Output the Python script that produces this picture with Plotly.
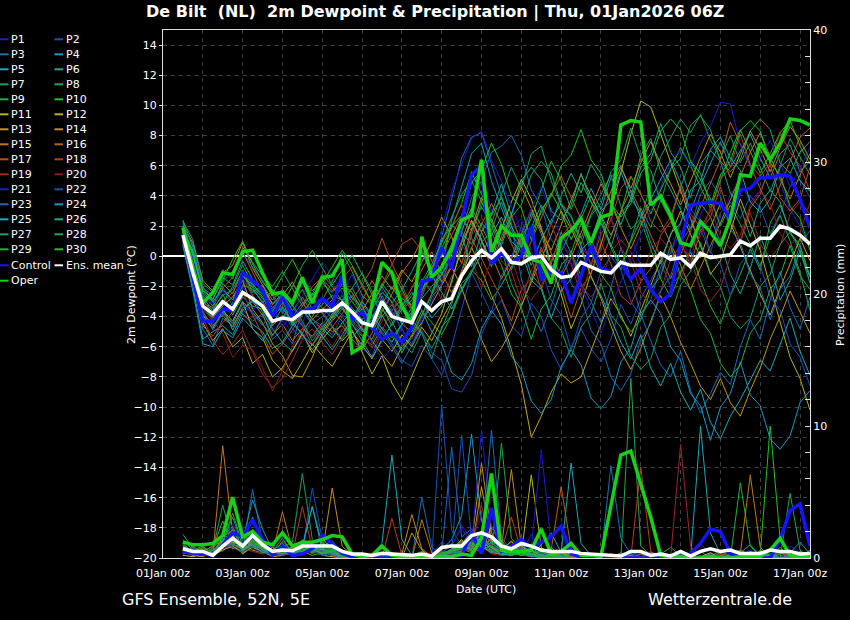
import plotly.graph_objects as go
import pandas as pd

# ---------------- data ----------------
start_time = "2026-01-01 12:00"
n_steps = 64
x_tick_days = ["2026-01-%02d" % d for d in range(1, 18)]
x_tick_labels = ["01Jan 00z", "", "03Jan 00z", "", "05Jan 00z", "", "07Jan 00z", "", "09Jan 00z", "",
                 "11Jan 00z", "", "13Jan 00z", "", "15Jan 00z", "", "17Jan 00z"]
y_tick_vals = list(range(-20, 15, 2))
y2_tick_vals = list(range(0, 41, 2))
y2_tick_labels = ["0", "", "", "", "", "10", "", "", "", "", "20", "", "", "", "", "30", "", "", "", "", "40"]

member_colors = ["#1c1cc8", "#1c50b4", "#1c6cb4", "#1c98c0", "#1ca8b4", "#1ca888", "#1c9c64", "#1ca850",
                 "#1cb434", "#1cc41c", "#b4b41c", "#c0a81c", "#c0981c", "#c08c1c", "#c0781c", "#b4641c",
                 "#b4501c", "#b4401c", "#9c2828", "#8c1c1c"]

# dewpoint (deg C), 6-hourly from 01Jan 12z
dew_control = [1.5, -1.5, -4.3, -4.3, -3.5, -3.6, -1.1, -1.6, -2.2, -4.0, -2.7, -4.0, -3.6, -3.5, -2.8, -3.3,
               -1.3, -4.2, -3.7, -4.7, -5.5, -5.1, -5.7, -4.7, -1.7, -1.5, 0.6, -0.8, 2.3, 5.4, 6.0, -0.5,
               0.2, -0.4, 0.0, 2.0, -1.5, -1.0, -1.1, -3.1, -1.3, 0.7, -0.8, -1.0, -0.4, -1.5, -0.8, -2.2,
               -3.0, -2.5, 0.9, 3.4, 3.5, 3.6, 3.5, 2.5, 4.4, 4.5, 5.2, 5.2, 5.4, 5.3, 3.8, 1.9]
dew_oper = [1.9, -0.8, -3.1, -2.4, -1.1, -1.2, 0.3, 0.4, -1.1, -2.5, -2.4, -3.1, -1.4, -3.1, -1.4, -1.3,
            -0.2, -6.4, -6.0, -3.3, -0.4, -1.1, -3.3, -4.5, 1.3, -1.4, -0.7, 0.5, 2.4, 2.7, 6.4, 0.3,
            2.0, 1.4, 1.4, -0.2, -0.4, -1.8, 1.2, 1.7, 2.5, 0.9, 2.6, 2.8, 8.7, 9.0, 8.9, 3.4,
            4.0, 2.7, 0.9, 0.7, 2.3, 1.6, 0.7, 2.5, 5.4, 5.3, 7.5, 6.4, 7.5, 9.1, 9.0, 8.7]
dew_mean = [1.4, -1.1, -3.3, -3.8, -3.0, -3.5, -2.4, -2.8, -3.3, -4.3, -4.1, -4.2, -3.7, -3.7, -3.6, -3.6,
            -3.1, -3.7, -4.4, -4.6, -3.0, -4.0, -4.2, -4.4, -3.0, -3.6, -3.0, -2.8, -1.3, -0.3, 0.4, -0.1,
            0.5, -0.4, -0.5, -0.1, 0.0, -0.9, -1.4, -1.3, -0.4, -0.7, -1.0, -1.1, -0.4, -0.6, -0.6, -0.6,
            0.2, -0.2, -0.1, -0.7, 0.2, -0.1, 0.0, 0.1, 1.0, 0.7, 1.2, 1.2, 2.0, 1.8, 1.4, 0.8]

dew_p01 = [1.2, -0.5, -3.8, -4.5, -3.2, -4.0, -2.0, -3.1, -3.6, -5.0, -4.2, -5.1, -4.4, -3.0, -2.8, -3.9,
           -2.5, -1.2, -2.9, -4.1, -2.2, -3.5, -5.0, -5.8, -4.2, -3.0, -1.5, 0.2, 2.1, 4.8, 5.5, 3.0,
           3.6, 1.8, 2.5, 0.4, -1.2, -0.6, -2.4, -1.0, 0.8, -0.5, 1.9, 2.6, 0.9, 1.5, -0.7, -2.1,
           -1.0, 0.3, 1.6, -0.4, 2.8, 3.9, 2.2, 4.1, 5.0, 3.6, 4.4, 5.8, 4.9, 3.1, 2.0, 0.6]
dew_p02 = [1.6, -0.2, -2.5, -3.1, -2.0, -3.3, -1.5, -2.6, -2.0, -3.4, -3.6, -4.8, -5.5, -4.2, -4.6, -5.2,
           -4.0, -4.9, -6.1, -6.6, -5.0, -5.8, -6.9, -7.3, -5.9, -6.8, -7.9, -6.0, -3.5, -1.1, -2.4, -3.8,
           -2.9, -4.6, -5.3, -3.1, -4.0, -6.2, -7.5, -6.0, -4.8, -6.1, -7.0, -5.5, -3.2, -4.5, -2.8, -1.6,
           -0.4, -2.0, -1.2, 0.5, 1.8, 0.2, 2.9, 3.6, 2.5, 4.0, 3.2, 1.5, 2.8, 4.6, 5.1, 3.9]
dew_p03 = [1.0, -1.6, -4.8, -5.9, -4.1, -4.6, -3.5, -4.3, -3.8, -5.5, -4.9, -5.8, -3.6, -4.5, -4.0, -3.3,
           -3.9, -4.2, -5.0, -4.4, -2.6, -3.9, -3.1, -4.6, -2.7, -1.0, 1.3, 3.8, 6.5, 7.9, 8.2, 6.1,
           4.0, 2.2, -1.5, -3.6, -5.0, -3.3, -1.2, 0.4, -1.8, -3.0, -4.4, -2.1, 0.6, -1.5, -3.8, -5.6,
           -7.2, -8.0, -6.3, -8.9, -10.4, -9.1, -7.7, -8.5, -6.0, -4.2, -5.5, -2.9, -1.0, -3.4, -4.8, -2.7]
dew_p04 = [1.8, 0.4, -2.8, -3.5, -2.6, -2.2, -1.0, -1.9, -2.5, -3.6, -2.9, -4.0, -3.1, -2.6, -1.8, -2.4,
           -1.6, -2.8, -3.3, -4.7, -3.9, -5.1, -6.2, -5.4, -4.0, -2.5, -0.9, 2.4, 4.6, 6.8, 7.5, 5.0,
           3.2, 1.4, 0.6, 2.9, 1.5, -0.8, 0.3, 1.7, 2.8, 4.5, 3.1, 5.2, 6.0, 4.3, 2.5, 3.8,
           5.1, 6.4, 4.9, 3.0, 4.7, 6.2, 7.6, 5.9, 7.0, 8.1, 6.5, 5.2, 6.8, 7.4, 5.6, 6.3]
dew_p05 = [0.8, -2.0, -5.5, -5.0, -4.6, -5.2, -3.8, -4.5, -5.0, -6.1, -5.7, -6.3, -5.2, -5.9, -4.8, -5.4,
           -4.4, -3.6, -4.9, -5.5, -4.0, -3.2, -4.5, -3.8, -2.9, -4.1, -3.3, -1.8, 0.9, 2.3, 1.0, -0.7,
           1.3, 2.7, 0.9, -0.6, 1.1, 2.4, 3.5, 2.0, 0.7, -1.4, -2.6, -4.1, -5.7, -6.8, -5.2, -7.4,
           -8.6, -7.1, -9.0, -10.2, -8.8, -11.0, -12.1, -10.6, -9.5, -8.2, -6.9, -7.6, -5.8, -4.1, -6.3, -7.9]
dew_p06 = [2.4, 0.6, -2.2, -2.9, -1.4, -1.9, -0.3, -1.5, -2.2, -3.1, -2.5, -3.6, -2.7, -3.8, -3.2, -2.6,
           -2.9, -3.4, -4.2, -3.5, -2.4, -3.0, -4.4, -3.7, -2.8, -2.0, -1.2, -0.1, 1.6, 0.8, 2.2, 1.5,
           0.6, -0.9, 0.8, 1.9, 3.4, 2.1, 4.0, 5.5, 4.2, 6.1, 5.0, 3.6, 2.1, 3.9, 6.7, 7.8,
           5.6, 4.4, 3.1, 1.8, 3.5, 2.6, 0.9, -1.2, -2.5, -0.8, 1.4, -0.5, -2.9, -1.6, 0.4, -1.8]
dew_p07 = [1.3, -0.9, -3.4, -4.2, -2.9, -3.6, -1.9, -2.2, -3.0, -4.0, -3.3, -4.6, -3.9, -2.8, -3.4, -4.1,
           -3.3, -2.6, -3.8, -4.9, -3.5, -4.3, -5.7, -6.4, -5.0, -6.1, -4.8, -3.2, -1.0, 1.4, 3.6, 2.2,
           4.1, 5.9, 4.5, 6.8, 7.3, 5.0, 3.4, 2.6, 1.2, 2.8, 4.1, 5.4, 3.3, 1.8, 2.5, 4.7,
           6.6, 7.9, 9.1, 8.2, 9.4, 7.7, 6.5, 8.0, 6.2, 7.5, 5.9, 4.3, 6.0, 7.8, 6.6, 5.4]
dew_p08 = [2.1, 0.2, -2.0, -3.0, -3.8, -3.1, -1.2, -2.0, -2.8, -3.7, -2.4, -3.2, -2.2, -3.5, -2.9, -1.7,
           0.2, -1.0, -2.6, -3.2, -1.8, -2.7, -3.6, -2.9, -1.5, -2.4, -0.6, 0.8, 2.5, 1.7, 3.3, 2.0,
           0.5, -1.8, -3.3, -1.6, 0.4, -0.5, 1.6, 0.2, -1.3, 0.9, 2.2, 0.6, -0.9, 1.1, 3.2, 1.9,
           3.7, 2.4, 4.6, 6.3, 5.1, 3.8, 2.0, 3.4, 2.1, 0.8, -0.7, 1.3, 2.7, 1.0, -1.1, -3.6]
dew_p09 = [1.7, -0.4, -3.0, -3.6, -2.5, -3.9, -2.7, -3.3, -3.5, -4.6, -3.9, -4.4, -3.5, -4.1, -4.9, -3.8,
           -3.4, -4.5, -5.3, -5.9, -4.7, -5.4, -4.5, -5.0, -3.6, -4.4, -5.2, -3.9, -2.2, -0.9, -1.6, -2.9,
           -1.9, -0.7, 1.2, 2.5, 4.4, 6.3, 5.0, 3.1, 4.9, 3.6, 2.3, 0.8, -0.6, 1.0, 2.4, 0.5,
           -1.5, -2.7, -1.1, 0.3, -1.6, -3.3, -4.5, -2.6, -1.2, 0.5, -0.9, 2.2, 3.4, 1.7, 0.3, -1.4]
dew_p10 = [1.9, 0.0, -2.6, -3.3, -1.8, -2.5, -0.9, -2.4, -1.9, -2.9, -2.2, -3.0, -1.6, -2.3, -1.5, -2.8,
           -2.1, -3.0, -3.9, -4.1, -2.9, -3.6, -2.8, -3.2, -1.9, -0.8, 0.5, 1.9, 3.5, 5.6, 4.1, 2.7,
           3.9, 2.0, 0.7, 1.6, 2.9, 4.2, 3.0, 1.1, 2.5, 4.0, 2.7, 1.4, 2.9, 5.3, 4.1, 2.8,
           4.4, 5.8, 7.2, 6.0, 4.6, 3.2, 5.0, 6.9, 8.4, 7.0, 5.5, 6.8, 8.2, 9.0, 7.3, 6.1]
dew_p11 = [1.1, -1.8, -4.4, -5.6, -4.8, -6.0, -5.4, -7.1, -6.5, -8.0, -7.4, -6.2, -5.1, -6.4, -5.5, -4.7,
           -5.6, -4.9, -6.3, -7.8, -6.6, -8.4, -9.5, -8.0, -6.4, -5.1, -3.8, -1.6, 0.5, 2.4, 1.1, -0.4,
           1.8, 3.6, 5.1, 3.8, 1.9, -0.6, -2.5, -4.8, -3.2, -1.1, 0.8, 3.0, 5.6, 8.1, 10.3, 9.9,
           8.1, 6.2, 4.4, 2.5, 0.7, -1.2, -0.3, 1.6, 3.8, 2.1, 0.4, -2.0, -4.4, -6.7, -8.1, -10.2]
dew_p12 = [0.9, -1.2, -3.9, -4.8, -3.6, -4.3, -3.0, -4.8, -5.4, -6.9, -7.6, -8.1, -7.0, -5.8, -6.6, -7.3,
           -6.1, -5.0, -5.9, -6.8, -5.5, -6.3, -5.2, -6.0, -4.7, -5.6, -4.2, -3.0, -1.4, 0.6, -0.9, -2.6,
           -4.1, -6.2, -8.5, -12.0, -10.6, -9.0, -7.8, -8.4, -8.0, -6.3, -4.5, -2.8, -3.9, -5.3, -3.6, -1.9,
           -0.3, 1.4, 3.0, 1.5, -0.1, 1.9, 3.5, 2.2, 0.6, -1.0, -2.5, -3.9, -2.1, -0.5, 1.2, -0.3]
dew_p13 = [1.5, -0.7, -3.2, -4.0, -3.3, -2.7, -1.6, -3.5, -4.4, -5.8, -6.6, -7.9, -8.0, -6.7, -5.1, -4.0,
           -3.1, -4.0, -4.8, -5.6, -6.5, -7.3, -6.0, -5.3, -4.4, -3.2, -2.0, -0.7, -2.1, -3.9, -5.5, -7.0,
           -6.1, -4.9, -3.3, -1.7, -0.2, 1.4, 3.0, 1.8, 0.4, -1.3, -2.8, -4.6, -6.3, -7.5, -6.1, -4.3,
           -2.6, -4.0, -5.7, -7.1, -8.6, -9.5, -8.1, -9.7, -10.6, -8.9, -7.4, -5.5, -4.0, -2.3, -3.7, -5.1]
dew_p14 = [2.0, 0.9, -1.6, -2.3, -1.1, -0.6, 0.9, -0.8, -1.9, -3.2, -2.6, -1.7, -3.0, -4.2, -3.5, -2.9,
           -1.8, -2.4, -3.6, -2.5, -1.3, -2.2, -0.9, -1.7, -0.4, 1.0, 2.6, 1.3, -0.5, 1.8, 3.9, 2.4,
           1.0, 2.8, 4.6, 3.2, 1.7, 0.4, 2.1, 3.8, 5.4, 4.0, 2.6, 4.3, 5.9, 4.5, 6.2, 7.6,
           6.1, 4.8, 3.4, 5.0, 6.6, 8.1, 6.9, 5.2, 6.8, 8.3, 7.1, 5.6, 7.2, 8.6, 7.7, 6.4]
dew_p15 = [1.2, -1.3, -3.7, -4.6, -3.9, -4.7, -3.4, -3.0, -3.9, -5.2, -4.5, -5.6, -4.8, -5.3, -4.4, -5.0,
           -4.6, -5.5, -6.2, -5.1, -3.7, -2.5, -1.1, -0.2, 1.1, -0.3, -1.7, -0.6, 1.0, 2.9, 1.6, 0.1,
           -1.5, -0.2, 1.5, 3.1, 1.8, 0.2, -1.4, -0.1, 1.6, 3.2, 4.8, 3.5, 1.9, 0.5, 2.0, 3.6,
           2.3, 0.9, -0.6, -2.2, -0.8, 0.7, 2.2, 3.7, 5.3, 6.9, 8.2, 6.6, 5.1, 3.8, 5.4, 6.8]
dew_p16 = [1.4, -0.6, -3.1, -3.4, -2.1, -1.4, 0.3, -1.1, -2.4, -3.4, -2.7, -3.8, -4.6, -5.9, -5.0, -4.3,
           -3.5, -4.3, -3.0, -1.6, -2.8, -4.1, -3.3, -2.1, -0.9, 0.3, -1.1, -2.4, -1.0, 0.6, 2.1, 3.5,
           2.2, 0.9, -0.5, 1.0, 2.6, 4.1, 5.3, 3.9, 2.4, 1.0, -0.3, 1.3, 3.0, 4.4, 3.0, 1.4,
           0.0, -1.5, 0.1, 1.7, 3.3, 4.9, 6.4, 8.9, 7.4, 6.0, 4.5, 3.1, 4.7, 6.2, 7.9, 8.5]
dew_p17 = [1.0, -1.9, -4.6, -5.3, -4.4, -3.7, -2.3, -3.9, -5.2, -6.5, -5.8, -4.9, -3.7, -2.9, -3.8, -4.7,
           -3.8, -2.9, -1.9, -0.8, 1.2, -0.5, -1.9, -3.4, -2.5, -1.3, 0.1, 1.4, 2.7, 1.2, -0.2, -1.5,
           -2.8, -4.3, -2.2, -1.5, 0.6, -1.3, -2.0, -4.1, -2.1, -1.2, 0.9, -0.5, -2.6, -3.2, -1.7, -0.8,
           1.4, 2.3, 1.0, -0.6, 1.7, 2.6, 4.6, 2.5, 1.0, 3.2, 4.1, 6.1, 3.9, 3.0, 3.8, 5.9]
dew_p18 = [1.6, -0.3, -2.9, -3.8, -3.0, -2.4, -1.1, -2.6, -3.4, -2.5, -3.5, -4.3, -3.3, -2.0, -1.4, -2.3,
           -1.5, -0.7, -2.0, -3.1, -1.9, -0.6, 0.8, 1.2, 0.4, -0.8, 0.9, 2.0, 3.4, 2.1, 0.6, -0.6,
           0.9, 2.8, 0.8, -0.1, -2.2, -0.3, 1.3, 2.1, 1.3, -0.6, 1.5, 2.4, 4.5, 5.3, 4.2, 2.3,
           1.6, 2.6, 4.7, 2.8, 1.9, 3.0, 5.1, 5.9, 8.1, 6.1, 5.3, 6.2, 8.2, 6.9, 6.0, 4.3]
dew_p19 = [1.3, -1.0, -4.0, -5.6, -6.5, -5.8, -4.9, -6.3, -7.8, -8.7, -8.1, -6.9, -5.5, -4.8, -5.7, -6.5,
           -5.4, -4.3, -5.2, -6.1, -4.9, -3.6, -2.4, -3.7, -2.6, -1.1, -3.0, -1.3, -0.5, 1.6, 2.5, 1.7,
           -0.3, -1.0, -3.0, -0.9, 0.1, 2.2, 0.3, -0.5, -2.6, -0.6, 0.4, 2.5, 0.5, -0.3, -2.4, -3.2,
           -2.3, -0.2, 0.7, -0.1, -2.2, -3.0, -2.1, 0.0, 0.9, 2.9, 0.8, -0.1, 0.7, 2.8, 3.6, 2.8]
dew_p20 = [1.1, -1.4, -3.5, -4.3, -5.1, -6.7, -5.9, -6.2, -7.4, -8.9, -7.6, -6.0, -4.9, -4.1, -5.0, -6.0,
           -4.8, -3.7, -4.6, -5.7, -4.3, -3.1, -4.2, -5.5, -4.0, -2.5, -1.8, 0.0, 0.7, -0.1, -2.1, -0.2,
           0.6, -0.1, -2.1, -2.9, -2.0, 0.0, 0.8, 0.1, -1.9, -2.7, -1.8, 0.3, 1.1, 0.3, -1.7, 0.4,
           1.2, 0.4, -1.6, 0.5, 1.3, 3.3, 1.3, 0.5, 1.4, 3.4, 4.3, 3.5, 1.5, 0.7, 1.6, 3.6]
dew_p21 = [1.7, -0.1, -2.7, -3.2, -2.3, -3.0, -2.5, -3.6, -2.9, -3.3, -4.7, -3.8, -2.6, -1.5, -0.4, -1.3,
           -2.4, -3.6, -4.4, -5.8, -6.8, -6.1, -4.7, -3.9, -2.2, -0.6, 1.8, 4.3, 6.1, 7.8, 8.3, 6.4,
           5.0, 3.3, 1.6, 3.1, 4.6, 2.8, 1.2, -0.5, -2.0, -3.5, -5.1, -3.3, -1.7, -0.1, 1.5, 3.1,
           4.6, 6.2, 7.1, 5.9, 7.5, 8.6, 10.2, 10.1, 7.4, 5.9, 6.5, 7.7, 6.2, 4.6, 5.8, 7.2]
dew_p22 = [1.3, -1.1, -3.6, -4.9, -3.8, -4.4, -3.2, -3.8, -4.6, -3.5, -2.4, -3.3, -4.5, -5.4, -4.6, -3.5,
           -2.6, -3.8, -5.0, -4.2, -2.9, -3.7, -4.8, -5.9, -4.9, -6.4, -6.9, -8.8, -9.0, -7.9, -5.2, -3.7,
           -1.3, -0.1, 2.0, 0.0, -0.8, -2.9, -3.9, -6.2, -4.1, -3.1, -1.0, 0.0, -0.9, -3.0, -4.0, -2.9,
           -0.7, 0.2, 2.3, 3.1, 2.3, 0.3, -0.5, -2.6, -0.5, 0.3, -0.6, -2.7, -3.6, -5.8, -6.7, -8.6]
dew_p23 = [2.2, 0.7, -2.1, -2.6, -1.7, -1.0, 0.2, -0.7, -1.6, -2.6, -3.8, -2.9, -1.8, -2.7, -3.7, -4.6,
           -5.5, -4.4, -3.2, -4.0, -5.1, -6.0, -7.1, -5.9, -4.5, -2.7, -1.9, 0.4, 1.5, 3.9, 5.0, 6.9,
           7.3, 8.0, 6.7, 4.4, 3.3, 1.1, 0.4, -1.8, -2.7, -4.9, -5.8, -8.0, -8.9, -7.8, -5.5, -4.5,
           -2.3, -1.3, 0.9, 1.9, 4.1, 5.0, 4.0, 1.8, 0.9, -1.2, -2.1, -4.2, -2.2, -1.3, 0.8, 1.7]
dew_p24 = [0.7, -2.3, -5.8, -6.0, -4.9, -5.4, -4.1, -4.8, -5.6, -4.5, -3.4, -4.3, -5.2, -6.2, -5.3, -4.2,
           -3.3, -4.5, -5.6, -6.7, -5.6, -4.4, -3.3, -2.4, -3.6, -5.0, -5.8, -7.7, -8.2, -7.1, -4.8, -3.6,
           -4.5, -6.6, -7.5, -9.6, -10.4, -9.5, -7.3, -6.2, -7.2, -9.4, -10.1, -9.3, -7.0, -6.1, -3.8, -2.9,
           -3.8, -6.0, -6.9, -9.1, -9.9, -12.2, -10.0, -9.1, -7.0, -9.2, -9.9, -12.1, -12.8, -11.9, -9.7, -8.9]
dew_p25 = [1.5, -0.8, -3.3, -4.1, -3.4, -4.9, -3.6, -2.9, -3.7, -4.8, -5.7, -4.6, -3.5, -4.4, -5.3, -6.2,
           -5.2, -4.1, -3.0, -3.9, -4.8, -5.7, -4.5, -3.4, -2.3, -1.2, -2.4, -3.5, -2.3, -1.1, 0.2, 1.4,
           2.6, 1.0, 0.3, -1.6, -2.2, -4.1, -2.3, -1.5, 0.4, 1.1, 3.0, 3.7, 5.6, 3.8, 2.9, 0.9,
           -0.5, 1.5, 2.2, 4.4, 5.0, 7.1, 7.9, 6.5, 5.7, 3.6, 2.9, 3.8, 5.9, 6.5, 5.0, 4.3]
dew_p26 = [1.8, 0.3, -2.4, -3.0, -2.2, -2.9, -1.3, -2.1, -3.1, -2.2, -3.0, -4.5, -5.1, -4.0, -2.9, -3.6,
           -4.3, -5.4, -4.6, -3.3, -2.0, -3.1, -2.2, -1.0, 0.3, -1.2, 1.1, 2.1, 1.4, -0.7, 1.6, 2.8,
           4.8, 2.7, 5.0, 5.9, 5.1, 3.0, 2.4, 3.4, 5.5, 3.6, 2.7, 0.6, 2.8, 3.7, 5.9, 6.8,
           8.8, 6.9, 5.9, 3.9, 6.1, 7.0, 6.3, 4.2, 3.3, 1.3, 3.5, 4.4, 3.6, 1.5, 0.7, -1.4]
dew_p27 = [1.0, -1.5, -4.1, -4.7, -3.7, -4.5, -3.0, -3.7, -4.5, -5.3, -4.1, -3.2, -4.3, -5.6, -4.7, -3.9,
           -2.9, -2.1, -3.3, -4.5, -3.2, -2.0, -3.1, -4.2, -5.1, -6.8, -4.7, -3.9, -1.8, -1.1, 0.9, 1.7,
           3.6, 1.7, 0.9, -1.2, -2.0, -4.1, -4.9, -6.7, -4.7, -3.8, -1.8, -3.9, -4.7, -6.6, -7.5, -6.8,
           -4.7, -3.9, -1.9, -1.0, 0.9, -1.1, -2.0, -4.0, -4.8, -4.1, -2.0, -1.2, 0.8, 1.6, 0.7, -1.3]
dew_p28 = [2.3, 1.1, -1.8, -2.4, -0.9, -1.5, 0.6, -0.4, -1.3, -2.0, -1.0, -2.2, -3.3, -2.5, -1.2, -2.0,
           -3.0, -2.1, -1.1, -2.3, -3.4, -4.6, -3.5, -2.6, -1.7, -0.5, 0.9, 2.6, 4.1, 5.0, 3.6, 2.3,
           0.7, 2.6, 3.4, 5.4, 6.3, 5.5, 3.5, 2.7, 0.8, 2.7, 3.5, 5.6, 6.4, 8.5, 6.5, 5.7,
           3.6, 5.8, 6.5, 8.7, 9.3, 8.4, 6.3, 5.6, 6.4, 8.3, 9.1, 8.4, 6.2, 5.5, 6.9, 7.6]
dew_p29 = [1.4, -1.2, -3.9, -4.4, -3.1, -2.0, -0.6, -1.8, -2.7, -3.9, -3.1, -2.0, -0.6, 0.4, -0.8, -1.9,
           -0.9, 0.1, -1.2, -2.6, -3.9, -5.1, -6.4, -5.2, -3.9, -2.6, -1.2, 0.2, 1.7, 3.2, 2.0, 0.6,
           -0.6, -2.5, -3.4, -5.5, -3.5, -2.6, -0.6, 0.2, 2.2, 0.3, -1.2, -2.1, -4.1, -5.0, -4.2, -2.2,
           -1.3, 0.7, -1.3, -2.2, -4.2, -5.1, -7.1, -8.0, -7.2, -5.1, -4.2, -2.2, -1.3, 0.7, -1.3, -2.2]
dew_p30 = [1.9, 0.1, -2.3, -2.8, -1.6, -0.2, 1.0, -0.5, -1.7, -2.5, -1.3, -0.2, -1.5, -2.6, -1.8, -0.7,
           0.4, -0.6, -1.9, -3.1, -2.0, -0.9, -2.2, -3.5, -2.3, -0.7, 0.0, 2.0, 2.7, 4.9, 5.7, 7.5,
           6.1, 4.0, 3.2, 1.1, 3.1, 4.0, 6.0, 6.7, 8.4, 6.4, 5.5, 3.5, 2.6, 3.5, 5.5, 6.4,
           8.3, 9.1, 8.4, 6.3, 5.5, 3.4, 5.4, 6.3, 8.3, 9.0, 8.3, 6.2, 5.4, 3.3, 2.5, 0.4]

# precipitation (mm per 6 h)
pcp_control = [0.5, 0.35, 0.3, 0.2, 1.0, 1.9, 1.6, 2.9, 1.4, 0.2, 0.9, 0.2, 0.3, 0.7, 1.7, 1.1,
               0.35, 0.1, 0.0, 0.0, 0.0, 0.0, 0.0, 0.0, 0.0, 0.0, 0.0, 0.0, 0.2, 1.9, 0.35, 3.8,
               0.5, 0.9, 1.4, 0.7, 1.2, 1.6, 2.4, 0.35, 0.05, 0.1, 0.0, 0.0, 0.0, 0.0, 0.0, 0.0,
               0.0, 0.0, 0.0, 0.3, 1.1, 2.2, 2.0, 0.35, 0.0, 0.0, 0.0, 0.0, 1.4, 3.6, 4.1, 0.9]
pcp_oper = [1.2, 1.0, 1.0, 1.1, 1.7, 4.6, 1.6, 2.0, 1.2, 1.0, 1.9, 0.9, 1.2, 1.2, 1.4, 1.7,
            1.6, 0.3, 0.1, 0.2, 0.9, 0.2, 0.1, 0.0, 0.1, 0.0, 0.1, 0.1, 0.3, 0.2, 1.5, 6.4,
            0.6, 0.5, 0.5, 0.6, 2.2, 0.3, 0.5, 1.1, 0.2, 0.2, 0.1, 4.0, 7.8, 8.1, 5.7, 3.1,
            0.2, 0.1, 0.1, 0.0, 0.0, 0.1, 0.0, 0.0, 0.1, 0.1, 0.1, 0.6, 1.5, 0.2, 0.1, 0.0]
pcp_mean = [0.7, 0.5, 0.5, 0.2, 0.9, 1.5, 0.9, 1.7, 1.0, 0.5, 0.6, 0.55, 0.9, 0.9, 0.9, 0.9,
            0.5, 0.3, 0.3, 0.2, 0.35, 0.3, 0.2, 0.2, 0.3, 0.15, 0.8, 0.9, 0.9, 1.7, 1.9, 1.6,
            0.9, 0.7, 1.1, 0.9, 0.6, 0.5, 0.5, 0.5, 0.35, 0.3, 0.3, 0.2, 0.15, 0.5, 0.5, 0.2,
            0.3, 0.15, 0.5, 0.15, 0.5, 0.7, 0.5, 0.6, 0.35, 0.35, 0.35, 0.6, 0.5, 0.5, 0.3, 0.35]

pcp_p01 = [0.4, 0.2, 0.6, 0.3, 1.1, 2.0, 0.8, 1.5, 0.9, 0.3, 0.5, 0.2, 0.8, 1.2, 0.7, 0.5,
           0.2, 0.0, 0.0, 0.1, 0.0, 0.0, 0.1, 0.0, 0.0, 0.3, 1.2, 0.8, 2.5, 1.4, 3.1, 1.0,
           0.6, 0.2, 0.4, 1.8, 0.5, 0.1, 0.0, 0.2, 0.0, 0.0, 0.1, 0.3, 0.0, 0.0, 0.2, 0.5,
           0.1, 0.0, 0.0, 0.4, 1.1, 0.3, 0.0, 0.0, 0.2, 0.6, 0.1, 0.0, 0.3, 0.9, 0.4, 0.1]
pcp_p02 = [0.6, 0.4, 0.3, 0.8, 0.5, 1.3, 1.9, 0.9, 0.4, 0.2, 0.9, 0.3, 0.6, 5.3, 1.4, 0.8,
           0.3, 0.1, 0.0, 0.0, 0.2, 0.0, 0.0, 0.0, 0.0, 0.0, 11.6, 2.1, 1.0, 0.6, 1.8, 0.9,
           0.3, 0.5, 0.2, 0.9, 0.1, 0.3, 0.0, 0.0, 0.1, 0.0, 0.0, 0.0, 0.2, 0.6, 0.0, 0.0,
           0.0, 0.3, 0.0, 0.0, 0.1, 0.0, 0.5, 0.2, 0.0, 0.1, 0.0, 0.3, 0.0, 0.0, 0.2, 0.0]
pcp_p03 = [0.3, 0.5, 0.2, 0.4, 0.9, 1.4, 0.6, 5.2, 1.1, 0.4, 0.2, 0.6, 1.3, 0.8, 0.3, 0.5,
           0.1, 0.0, 0.2, 0.0, 0.0, 0.1, 0.0, 0.0, 4.6, 0.8, 0.3, 8.4, 1.6, 2.2, 0.9, 0.4,
           0.7, 1.2, 0.4, 0.2, 0.0, 0.1, 0.3, 0.0, 0.0, 0.2, 0.0, 7.0, 1.5, 0.3, 0.1, 0.0,
           0.0, 0.0, 0.2, 0.0, 0.0, 0.4, 0.0, 0.0, 0.1, 0.0, 0.3, 0.0, 0.5, 0.2, 0.0, 0.0]
pcp_p04 = [0.5, 0.3, 0.4, 0.2, 0.7, 1.0, 1.3, 4.4, 2.2, 0.6, 1.1, 0.4, 0.9, 3.9, 1.0, 0.6,
           0.2, 0.0, 0.1, 0.0, 0.4, 0.3, 0.0, 0.0, 0.0, 0.1, 0.6, 1.4, 3.2, 9.4, 2.8, 1.2,
           0.9, 0.4, 1.1, 0.3, 0.6, 0.2, 0.0, 0.1, 0.3, 0.0, 0.0, 0.1, 0.0, 0.0, 0.3, 0.0,
           0.0, 0.1, 0.0, 0.2, 0.0, 0.0, 0.0, 0.3, 0.6, 0.2, 0.0, 0.1, 0.0, 0.4, 1.2, 0.3]
pcp_p05 = [0.7, 0.6, 0.9, 0.3, 1.4, 0.8, 0.5, 1.2, 0.6, 0.2, 0.4, 0.8, 0.5, 1.0, 0.4, 0.2,
           0.0, 0.1, 0.0, 0.3, 1.1, 7.8, 1.4, 0.2, 0.0, 0.0, 0.2, 0.5, 1.3, 0.9, 2.0, 1.5,
           0.6, 0.3, 0.8, 0.2, 1.0, 1.9, 0.4, 7.2, 1.1, 0.2, 0.0, 0.0, 0.1, 0.0, 0.0, 0.4,
           0.2, 0.0, 0.0, 0.0, 10.0, 1.9, 0.3, 0.0, 0.0, 0.2, 0.5, 0.1, 0.0, 0.0, 0.3, 0.0]
pcp_p06 = [1.0, 0.4, 0.5, 0.2, 1.6, 2.4, 0.7, 1.8, 0.9, 0.5, 1.5, 0.3, 0.7, 0.4, 0.9, 1.3,
           0.4, 0.2, 0.0, 0.0, 0.0, 0.0, 0.1, 0.0, 0.1, 0.0, 0.4, 1.0, 0.6, 1.7, 0.8, 2.4,
           1.3, 0.5, 0.2, 0.6, 0.3, 0.0, 0.2, 0.5, 0.0, 0.0, 0.3, 0.0, 0.0, 0.2, 0.0, 0.0,
           0.3, 0.8, 0.2, 0.0, 0.5, 0.0, 0.0, 0.1, 0.4, 1.0, 0.2, 0.0, 0.6, 0.3, 0.0, 0.2]
pcp_p07 = [1.8, 0.7, 0.3, 0.6, 4.0, 1.2, 0.9, 3.1, 1.0, 0.3, 0.8, 1.2, 6.4, 1.4, 0.6, 0.9,
           0.5, 0.1, 0.0, 0.0, 0.0, 0.2, 0.0, 0.0, 0.0, 0.0, 0.3, 0.6, 1.2, 0.8, 1.9, 0.7,
           0.4, 0.9, 0.3, 0.1, 0.5, 0.0, 0.3, 0.2, 0.1, 0.0, 0.0, 0.2, 0.0, 0.0, 0.0, 0.1,
           0.0, 0.0, 0.5, 0.3, 0.0, 0.0, 0.2, 0.0, 0.0, 0.3, 0.0, 0.2, 0.8, 0.1, 0.0, 0.0]
pcp_p08 = [0.9, 0.3, 0.6, 0.4, 1.2, 3.4, 1.0, 2.2, 1.4, 0.5, 0.7, 0.2, 1.1, 0.6, 0.3, 0.7,
           0.2, 0.0, 0.0, 0.1, 0.0, 0.0, 0.0, 0.2, 0.5, 0.1, 0.0, 0.4, 1.1, 2.0, 0.8, 0.4,
           8.7, 1.5, 0.6, 0.2, 0.4, 0.8, 0.1, 0.0, 0.0, 0.3, 0.0, 0.0, 0.0, 13.6, 0.9, 0.2,
           0.0, 0.0, 0.1, 0.0, 0.0, 0.3, 0.0, 0.0, 0.2, 0.0, 0.6, 0.2, 0.0, 0.0, 0.5, 0.1]
pcp_p09 = [1.2, 0.9, 0.4, 0.7, 2.8, 1.1, 0.6, 1.4, 0.8, 0.2, 1.3, 0.5, 0.9, 0.7, 1.6, 0.4,
           0.3, 0.0, 0.1, 0.0, 0.0, 0.0, 0.0, 0.0, 0.0, 0.2, 0.5, 0.2, 0.9, 1.5, 0.6, 3.4,
           1.2, 0.4, 0.2, 0.7, 0.1, 0.3, 0.0, 0.0, 0.2, 0.0, 0.1, 0.0, 0.4, 0.0, 0.0, 0.3,
           0.0, 0.2, 0.0, 0.0, 0.0, 0.1, 0.6, 0.0, 5.7, 0.9, 0.1, 0.0, 0.3, 0.5, 0.0, 0.2]
pcp_p10 = [0.8, 0.5, 0.7, 0.3, 0.9, 1.7, 0.5, 1.0, 0.6, 0.4, 0.3, 0.9, 0.5, 0.2, 0.4, 0.8,
           0.1, 0.0, 0.0, 0.0, 0.0, 0.0, 0.0, 0.1, 0.0, 0.0, 0.0, 0.3, 0.7, 0.4, 1.3, 0.6,
           0.2, 0.3, 0.9, 0.5, 0.2, 0.0, 0.1, 0.4, 0.0, 0.1, 0.0, 0.0, 0.2, 0.0, 0.0, 0.0,
           0.1, 0.0, 0.0, 0.2, 0.0, 0.0, 0.3, 0.1, 0.0, 0.4, 0.2, 10.0, 1.4, 0.3, 0.0, 0.1]
pcp_p11 = [0.2, 0.1, 0.3, 0.2, 0.6, 0.9, 0.4, 0.8, 0.5, 0.1, 0.2, 0.4, 0.3, 0.6, 0.2, 0.1,
           0.0, 0.0, 0.0, 0.0, 0.0, 0.0, 0.0, 0.0, 0.0, 0.0, 0.2, 0.4, 0.7, 1.2, 0.5, 2.3,
           1.1, 0.6, 0.3, 6.3, 0.8, 0.2, 0.0, 0.1, 0.0, 0.0, 0.0, 0.3, 0.1, 0.0, 0.0, 0.0,
           0.0, 0.1, 0.0, 0.0, 0.0, 0.0, 0.0, 0.2, 0.0, 0.0, 0.1, 0.0, 0.0, 0.3, 0.0, 0.0]
pcp_p12 = [0.5, 0.2, 0.1, 0.4, 0.8, 1.2, 0.3, 0.9, 0.6, 0.3, 0.7, 0.2, 0.4, 0.9, 0.5, 0.3,
           0.1, 0.0, 0.0, 0.0, 0.1, 0.0, 0.0, 0.0, 0.0, 0.0, 0.1, 0.3, 0.5, 0.9, 1.6, 0.8,
           0.5, 1.3, 0.2, 0.6, 0.1, 0.0, 0.0, 0.3, 0.0, 0.0, 0.2, 0.0, 0.0, 0.0, 0.1, 0.0,
           0.2, 0.0, 0.0, 0.0, 0.1, 0.4, 0.0, 0.0, 0.3, 0.0, 0.0, 0.2, 0.0, 0.0, 0.1, 0.4]
pcp_p13 = [0.6, 0.3, 0.5, 0.9, 1.3, 0.7, 1.1, 0.6, 0.4, 0.8, 0.3, 0.5, 1.0, 0.4, 0.7, 0.2,
           0.0, 0.1, 0.0, 0.0, 0.0, 0.0, 0.0, 1.9, 0.6, 0.0, 0.2, 0.7, 1.4, 0.5, 5.4, 1.3,
           0.9, 0.3, 0.5, 0.2, 0.0, 0.4, 0.1, 0.0, 0.0, 0.1, 0.0, 0.0, 0.3, 0.0, 0.0, 0.0,
           0.0, 0.0, 0.4, 0.0, 0.0, 0.0, 0.2, 0.0, 0.0, 0.5, 0.1, 0.0, 0.2, 0.0, 0.0, 0.3]
pcp_p14 = [0.4, 0.8, 0.2, 0.3, 1.0, 1.5, 0.6, 1.3, 0.7, 0.2, 0.5, 0.3, 0.6, 1.1, 0.4, 5.3,
           0.9, 0.2, 0.0, 0.0, 0.0, 0.0, 0.3, 3.3, 0.7, 0.1, 0.0, 0.5, 0.8, 1.1, 7.2, 1.9,
           0.8, 6.7, 0.9, 0.3, 0.2, 0.0, 0.4, 0.1, 0.0, 0.0, 0.1, 0.0, 0.0, 0.2, 0.0, 0.0,
           0.0, 0.3, 0.0, 0.0, 0.0, 0.1, 0.0, 0.0, 0.2, 0.0, 0.3, 0.0, 0.0, 0.1, 0.0, 0.0]
pcp_p15 = [0.7, 0.4, 0.6, 0.2, 8.5, 1.8, 0.5, 1.0, 0.9, 0.4, 3.5, 0.6, 0.5, 0.8, 0.3, 0.6,
           0.2, 0.0, 0.0, 0.0, 0.0, 0.0, 0.0, 0.0, 2.9, 0.4, 0.1, 0.6, 1.0, 0.7, 1.5, 0.5,
           0.4, 0.2, 0.6, 0.3, 0.0, 0.1, 0.0, 0.2, 0.0, 0.0, 0.0, 0.1, 0.0, 0.0, 0.0, 0.4,
           0.0, 0.0, 0.0, 0.1, 0.0, 0.0, 0.0, 0.0, 0.3, 6.3, 0.8, 0.1, 0.0, 0.2, 0.4, 0.0]
pcp_p16 = [0.5, 0.6, 0.3, 0.5, 1.4, 0.9, 2.0, 0.8, 1.2, 0.6, 0.4, 0.9, 0.7, 0.5, 1.2, 0.4,
           0.3, 0.0, 0.1, 0.0, 0.0, 0.0, 0.0, 0.0, 0.0, 0.2, 0.4, 1.1, 0.6, 1.8, 0.9, 0.5,
           0.3, 0.8, 0.4, 0.1, 0.2, 0.6, 5.4, 0.7, 0.2, 0.0, 0.0, 0.0, 0.0, 0.1, 0.0, 0.0,
           0.0, 0.0, 0.0, 0.3, 0.0, 0.0, 0.4, 0.0, 0.1, 0.0, 0.0, 0.3, 0.5, 0.0, 0.2, 0.0]
pcp_p17 = [0.9, 0.5, 0.4, 0.7, 1.7, 1.3, 0.8, 1.6, 0.5, 0.3, 0.9, 0.4, 1.4, 0.6, 0.5, 0.3,
           0.1, 0.0, 0.0, 0.0, 0.0, 0.0, 0.0, 0.0, 0.0, 0.0, 0.3, 0.2, 0.9, 1.3, 0.6, 1.0,
           0.4, 0.2, 0.7, 0.1, 0.3, 0.0, 0.0, 0.1, 0.0, 0.0, 0.2, 0.0, 0.0, 0.0, 0.3, 0.0,
           0.0, 0.2, 0.0, 0.0, 0.0, 0.0, 0.2, 0.0, 0.0, 0.3, 0.0, 0.0, 0.4, 0.0, 0.1, 0.0]
pcp_p18 = [0.6, 0.3, 0.8, 0.2, 1.1, 2.2, 0.6, 1.2, 0.8, 0.4, 0.6, 0.3, 3.9, 0.7, 0.4, 0.5,
           0.2, 0.0, 0.0, 0.0, 0.0, 3.0, 0.2, 0.0, 0.0, 0.1, 0.5, 0.3, 1.2, 0.8, 0.4, 1.7,
           0.6, 3.1, 0.5, 0.2, 0.1, 0.0, 0.3, 0.0, 0.1, 0.0, 0.0, 0.0, 0.0, 0.0, 6.9, 0.5,
           0.0, 0.0, 0.0, 0.2, 0.0, 0.0, 0.0, 0.1, 0.0, 0.2, 0.0, 0.0, 0.0, 0.3, 0.0, 0.0]
pcp_p19 = [0.4, 0.2, 0.3, 0.6, 0.9, 1.6, 0.7, 0.5, 0.3, 0.6, 0.2, 0.4, 0.8, 0.3, 0.6, 0.2,
           0.0, 0.0, 0.0, 0.0, 0.0, 0.0, 0.0, 0.0, 0.0, 0.0, 0.2, 0.6, 0.4, 1.1, 4.0, 0.9,
           0.5, 0.3, 0.2, 0.4, 0.0, 0.1, 0.0, 0.0, 0.0, 0.0, 0.0, 0.0, 0.1, 0.0, 0.0, 0.0,
           0.0, 0.1, 8.6, 0.9, 0.0, 0.0, 0.3, 0.0, 0.0, 0.0, 0.2, 0.0, 0.0, 0.1, 0.0, 0.0]
pcp_p20 = [0.3, 0.4, 0.2, 0.3, 0.7, 1.0, 0.5, 0.9, 0.6, 0.2, 0.4, 0.5, 0.3, 0.6, 0.2, 0.4,
           0.1, 0.0, 0.0, 0.0, 0.0, 0.0, 0.0, 0.0, 0.0, 0.0, 0.1, 0.3, 0.7, 0.5, 0.9, 0.3,
           0.2, 0.6, 0.2, 0.1, 0.0, 0.2, 0.0, 0.0, 0.0, 0.0, 0.0, 0.0, 0.0, 0.0, 0.0, 0.2,
           0.0, 0.0, 0.0, 0.0, 0.0, 0.0, 0.0, 0.0, 0.0, 0.1, 0.0, 0.0, 0.2, 0.0, 0.0, 0.1]
pcp_p21 = [0.5, 0.7, 0.4, 0.5, 1.0, 2.6, 1.2, 0.7, 0.4, 0.3, 0.5, 0.2, 0.6, 0.9, 0.3, 0.8,
           0.2, 0.0, 0.0, 0.0, 0.0, 0.0, 0.0, 0.0, 0.0, 0.0, 0.4, 0.9, 2.3, 1.0, 9.7, 2.4,
           0.7, 0.4, 0.3, 0.8, 8.2, 1.1, 0.2, 0.0, 0.1, 0.0, 0.0, 0.3, 0.0, 0.0, 0.0, 0.0,
           0.0, 0.2, 0.0, 0.0, 0.0, 0.0, 0.0, 0.0, 0.4, 0.0, 0.0, 0.1, 0.0, 0.2, 0.0, 0.5]
pcp_p22 = [0.8, 0.4, 0.2, 0.3, 1.3, 0.8, 0.4, 1.1, 0.7, 0.4, 0.2, 0.6, 0.9, 0.5, 0.2, 0.4,
           0.0, 0.1, 0.0, 0.0, 0.0, 0.0, 0.0, 0.0, 0.0, 0.3, 0.1, 0.5, 9.3, 1.4, 0.8, 0.6,
           0.3, 0.2, 0.5, 0.1, 0.4, 0.0, 0.0, 0.2, 0.0, 0.0, 0.0, 0.0, 0.0, 0.3, 0.0, 0.0,
           0.0, 0.0, 0.1, 0.0, 0.2, 0.0, 0.0, 0.0, 0.0, 0.3, 0.0, 0.0, 0.1, 0.0, 0.0, 0.2]
pcp_p23 = [0.3, 0.6, 0.5, 0.2, 0.8, 1.1, 0.6, 0.9, 0.5, 0.2, 0.6, 0.3, 0.4, 0.8, 0.5, 0.2,
           0.1, 0.0, 0.0, 0.0, 0.0, 0.0, 0.0, 0.0, 0.0, 0.0, 0.3, 0.2, 0.6, 0.9, 1.3, 9.7,
           1.6, 0.5, 0.8, 0.3, 0.1, 0.2, 0.0, 0.0, 0.0, 0.1, 0.0, 0.0, 0.0, 0.0, 0.0, 0.0,
           0.0, 0.0, 0.3, 0.0, 0.0, 0.0, 0.0, 0.2, 0.0, 0.0, 0.4, 0.0, 0.0, 0.0, 0.2, 0.0]
pcp_p24 = [0.4, 0.5, 0.2, 0.6, 1.0, 1.4, 0.7, 1.1, 0.6, 0.3, 0.5, 0.2, 0.7, 0.5, 0.9, 0.3,
           0.0, 0.0, 0.0, 0.0, 0.0, 0.0, 0.0, 0.0, 0.0, 0.0, 0.2, 0.4, 0.5, 1.6, 0.7, 1.2,
           0.5, 0.4, 0.6, 0.3, 0.0, 0.2, 0.1, 0.0, 0.0, 0.0, 0.1, 0.0, 0.0, 0.0, 0.0, 0.0,
           0.1, 0.0, 0.0, 0.0, 0.0, 0.0, 0.0, 0.0, 0.0, 0.0, 0.0, 0.2, 0.0, 0.0, 0.0, 0.0]
pcp_p25 = [0.6, 0.2, 0.4, 0.3, 0.9, 1.8, 0.6, 1.0, 0.4, 0.6, 0.3, 0.5, 0.8, 3.9, 0.6, 0.4,
           0.1, 0.0, 0.0, 0.0, 0.0, 0.0, 0.0, 0.0, 0.0, 0.0, 0.2, 0.6, 1.0, 0.7, 0.9, 0.4,
           0.3, 0.2, 0.4, 0.1, 0.3, 0.0, 0.0, 0.4, 0.2, 0.0, 0.0, 0.0, 0.0, 0.0, 0.0, 0.0,
           0.0, 0.3, 0.0, 0.0, 0.0, 0.0, 0.0, 0.0, 0.0, 0.0, 0.3, 0.0, 0.0, 0.2, 0.0, 0.6]
pcp_p26 = [0.7, 0.5, 0.3, 0.4, 1.5, 1.0, 0.8, 1.4, 0.9, 0.2, 0.6, 0.4, 0.5, 0.7, 0.3, 0.6,
           0.1, 0.0, 0.0, 0.0, 0.0, 0.0, 0.0, 0.0, 0.0, 0.0, 0.1, 0.5, 0.8, 1.2, 0.6, 1.5,
           0.6, 0.3, 0.5, 0.2, 0.0, 0.3, 0.0, 0.0, 0.0, 0.0, 0.0, 0.0, 0.0, 0.0, 0.0, 0.0,
           0.0, 0.0, 0.2, 0.0, 0.0, 0.0, 0.0, 0.0, 0.0, 0.2, 0.0, 0.0, 0.0, 0.0, 0.3, 0.0]
pcp_p27 = [0.5, 0.3, 0.6, 0.2, 1.2, 3.1, 0.9, 1.6, 0.7, 0.5, 0.3, 0.6, 1.1, 0.4, 0.8, 0.5,
           0.2, 0.0, 0.0, 0.0, 0.0, 0.0, 0.0, 0.0, 0.0, 0.0, 0.3, 0.4, 0.7, 1.0, 0.8, 0.6,
           0.4, 0.5, 0.2, 0.3, 0.1, 0.0, 0.2, 0.0, 0.0, 0.0, 0.0, 0.0, 0.0, 0.0, 0.0, 0.0,
           0.0, 0.0, 0.0, 0.0, 0.0, 0.3, 0.0, 0.0, 0.0, 0.0, 0.2, 0.0, 0.0, 0.0, 0.0, 0.0]
pcp_p28 = [1.4, 0.6, 0.5, 0.9, 1.8, 1.3, 0.7, 1.9, 1.0, 0.4, 0.8, 0.3, 0.7, 0.5, 1.2, 0.6,
           0.3, 0.0, 0.0, 0.0, 0.0, 0.0, 0.0, 0.0, 0.0, 0.0, 0.2, 0.7, 1.3, 0.9, 2.1, 1.1,
           0.7, 0.4, 0.6, 0.3, 0.5, 0.1, 0.0, 0.3, 0.0, 0.0, 0.0, 0.0, 0.0, 0.0, 0.0, 0.0,
           0.0, 0.0, 0.0, 0.2, 0.0, 0.0, 0.0, 0.0, 0.0, 0.0, 0.0, 0.3, 0.0, 4.9, 0.6, 0.0]
pcp_p29 = [0.9, 0.5, 0.8, 0.4, 1.6, 2.1, 0.9, 1.3, 0.6, 0.3, 0.7, 0.5, 0.9, 0.6, 0.4, 0.7,
           0.2, 0.0, 0.0, 0.0, 0.0, 0.0, 0.0, 0.0, 0.0, 0.0, 0.3, 0.5, 0.8, 1.1, 0.7, 0.9,
           0.5, 0.2, 0.4, 0.6, 0.2, 0.0, 0.3, 0.0, 0.0, 0.0, 0.0, 0.0, 0.0, 0.0, 0.0, 0.0,
           0.0, 0.0, 0.0, 0.0, 0.0, 0.0, 0.0, 0.0, 0.0, 0.3, 0.0, 0.0, 0.0, 0.0, 0.2, 0.0]
pcp_p30 = [1.1, 0.4, 0.6, 0.3, 1.3, 1.6, 0.5, 1.2, 0.8, 0.3, 0.4, 0.7, 0.6, 0.9, 0.3, 0.5,
           0.1, 0.0, 0.0, 0.0, 0.0, 0.0, 0.0, 0.0, 0.0, 0.0, 0.4, 0.6, 0.9, 0.5, 1.1, 0.8,
           0.3, 0.6, 0.2, 0.4, 0.0, 0.2, 0.0, 0.0, 0.0, 0.0, 0.0, 0.0, 0.0, 0.0, 0.0, 0.0,
           0.0, 0.0, 0.0, 0.0, 0.0, 0.0, 0.0, 0.0, 0.0, 0.0, 0.0, 0.0, 0.0, 0.0, 0.0, 0.0]

dew_members = [dew_p01, dew_p02, dew_p03, dew_p04, dew_p05, dew_p06, dew_p07, dew_p08, dew_p09, dew_p10,
               dew_p11, dew_p12, dew_p13, dew_p14, dew_p15, dew_p16, dew_p17, dew_p18, dew_p19, dew_p20,
               dew_p21, dew_p22, dew_p23, dew_p24, dew_p25, dew_p26, dew_p27, dew_p28, dew_p29, dew_p30]
pcp_members = [pcp_p01, pcp_p02, pcp_p03, pcp_p04, pcp_p05, pcp_p06, pcp_p07, pcp_p08, pcp_p09, pcp_p10,
               pcp_p11, pcp_p12, pcp_p13, pcp_p14, pcp_p15, pcp_p16, pcp_p17, pcp_p18, pcp_p19, pcp_p20,
               pcp_p21, pcp_p22, pcp_p23, pcp_p24, pcp_p25, pcp_p26, pcp_p27, pcp_p28, pcp_p29, pcp_p30]
member_names = ["P%d" % (k + 1) for k in range(30)]

for name, arr in [("c", dew_control), ("o", dew_oper), ("m", dew_mean), ("pc", pcp_control),
                  ("po", pcp_oper), ("pm", pcp_mean)] + [("d%d" % k, a) for k, a in enumerate(dew_members)] + \
        [("p%d" % k, a) for k, a in enumerate(pcp_members)]:
    assert len(arr) == n_steps, (name, len(arr))

# ---------------- figure ----------------
times = pd.date_range(start_time, periods=n_steps, freq="6h")
C_CONTROL = "#1414ff"
C_OPER = "#18d018"
C_MEAN = "#ffffff"
FONT = "DejaVu Sans"

fig = go.Figure()
for k in range(30):
    col = member_colors[k % 20]
    fig.add_trace(go.Scatter(x=times, y=dew_members[k], mode="lines", name=member_names[k],
                             line=dict(color=col, width=1), showlegend=False, yaxis="y"))
for k in range(30):
    col = member_colors[k % 20]
    fig.add_trace(go.Scatter(x=times, y=pcp_members[k], mode="lines", name=member_names[k],
                             line=dict(color=col, width=1), showlegend=False, yaxis="y2"))

for series, col, ax in [(dew_control, C_CONTROL, "y"), (pcp_control, C_CONTROL, "y2"),
                        (dew_oper, C_OPER, "y"), (pcp_oper, C_OPER, "y2"),
                        (dew_mean, C_MEAN, "y"), (pcp_mean, C_MEAN, "y2")]:
    fig.add_trace(go.Scatter(x=times, y=series, mode="lines", line=dict(color=col, width=3.5),
                             showlegend=False, yaxis=ax))

# geometry helpers (pixels -> paper)
L, R, T, B = 163, 810, 30, 558
def px(x):
    return (x - L) / (R - L)
def py(y):
    return (B - y) / (B - T)

shapes = []
annotations = []

# manual legend (two columns)
legend_entries = []
for k in range(30):
    legend_entries.append((member_names[k], member_colors[k % 20], k % 2, 39.3 + 15 * (k // 2)))
legend_entries.append(("Control", C_CONTROL, 0, 265.3))
legend_entries.append(("Ens. mean", C_MEAN, 1, 265.3))
legend_entries.append(("Oper", C_OPER, 0, 280.7))
for name, col, c, yy in legend_entries:
    x0 = 0 if c == 0 else 54.5
    shapes.append(dict(type="line", xref="paper", yref="paper", x0=px(x0), x1=px(x0 + 8.5),
                       y0=py(yy), y1=py(yy), line=dict(color=col, width=2)))
    annotations.append(dict(xref="paper", yref="paper", x=px(x0 + 9), y=py(yy), text=name,
                            showarrow=False, xanchor="left", yanchor="middle",
                            font=dict(family=FONT, size=11, color="white")))

annotations += [
    dict(xref="paper", yref="paper", x=px(435), y=py(12),
         text="De Bilt \u00a0(NL) \u00a02m Dewpoint &amp; Precipitation | Thu, 01Jan2026 06Z",
         showarrow=False, xanchor="center", yanchor="middle",
         font=dict(family=FONT, size=16, color="white", weight="bold")),
    dict(xref="paper", yref="paper", x=px(120), y=py(599), text="GFS Ensemble, 52N, 5E",
         showarrow=False, xanchor="left", yanchor="middle",
         font=dict(family=FONT, size=16, color="white")),
    dict(xref="paper", yref="paper", x=px(794), y=py(599), text="Wetterzentrale.de",
         showarrow=False, xanchor="right", yanchor="middle",
         font=dict(family=FONT, size=16, color="white")),
    dict(xref="paper", yref="paper", x=px(486), y=py(589), text="Date (UTC)",
         showarrow=False, xanchor="center", yanchor="middle",
         font=dict(family=FONT, size=11, color="white")),
    dict(xref="paper", yref="paper", x=px(131), y=py(295), text="2m Dewpoint (°C)", textangle=-90,
         showarrow=False, xanchor="center", yanchor="middle",
         font=dict(family=FONT, size=11, color="white")),
    dict(xref="paper", yref="paper", x=px(840), y=py(295), text="Precipitation (mm)", textangle=-90,
         showarrow=False, xanchor="center", yanchor="middle",
         font=dict(family=FONT, size=11, color="white")),
]

grid_col = "#404040"
fig.update_layout(
    width=850, height=620,
    margin=dict(l=L, r=850 - R, t=T, b=620 - B),
    paper_bgcolor="black", plot_bgcolor="black",
    showlegend=False,
    shapes=shapes, annotations=annotations,
    xaxis=dict(type="date", range=["2026-01-01 00:00", "2026-01-17 06:00"],
               tickvals=x_tick_days, ticktext=x_tick_labels,
               showgrid=True, gridcolor=grid_col, griddash="4px,4px", gridwidth=1,
               showline=True, linecolor="#e0e0e0", linewidth=1, mirror=True,
               ticks="", ticklabelstandoff=5,
               tickfont=dict(family=FONT, size=11, color="white"), zeroline=False),
    yaxis=dict(range=[-20, 15], tickvals=y_tick_vals, showgrid=True, gridcolor=grid_col,
               griddash="4px,4px", gridwidth=1, zeroline=True, zerolinecolor="white", zerolinewidth=1.5,
               showline=True, linecolor="#e0e0e0", linewidth=1, ticks="outside", ticklen=3,
               tickcolor="#e0e0e0", tickfont=dict(family=FONT, size=11, color="white")),
    yaxis2=dict(range=[0, 40], overlaying="y", side="right", tickvals=y2_tick_vals,
                ticktext=y2_tick_labels, showgrid=False, zeroline=False,
                showline=True, linecolor="#e0e0e0", linewidth=1, ticks="inside", ticklen=5,
                tickcolor="#e0e0e0", tickfont=dict(family=FONT, size=11, color="white")),
)

fig.write_html("out.html", config={"displayModeBar": False},
               post_script="document.body.style.margin='0';document.body.style.background='black';")
